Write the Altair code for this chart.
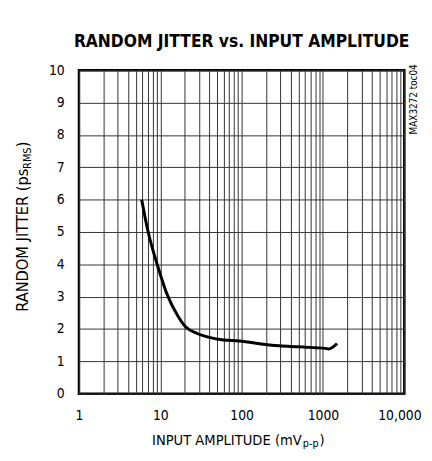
import altair as alt
import pandas as pd

# Curve (input amplitude mVp-p, random jitter psRMS)
amp = [5.9, 7.0, 9.3, 12.3, 16.3, 20.6, 28.5, 40, 60, 95, 150, 290, 500, 800, 1070, 1175, 1490]
jit = [6.0, 5.06, 3.94, 3.03, 2.42, 2.06, 1.86, 1.74, 1.66, 1.63, 1.56, 1.48, 1.45, 1.42, 1.40, 1.38, 1.55]

x_grid = [m * d for d in [1, 10, 100, 1000] for m in range(1, 10)] + [10000]
y_ticks = list(range(0, 11))
x_labels = {1: "1", 10: "10", 100: "100", 1000: "1000", 10000: "10,000"}

FONT = "DejaVu Sans Condensed, DejaVu Sans, sans-serif"

df = pd.DataFrame({"amp": amp, "jit": jit})

label_expr = " : ".join(
    [f"datum.value == {k} ? '{v}'" for k, v in x_labels.items()]
) + " : ''"

xscale = alt.Scale(type="log", domain=[1, 10000], nice=False)
yscale = alt.Scale(domain=[0, 10], nice=False)

line = alt.Chart(df).mark_line(color="black", strokeWidth=3, interpolate="monotone").encode(
    x=alt.X("amp:Q", scale=xscale,
            axis=alt.Axis(values=x_grid, labelExpr=label_expr, grid=True, gridColor="#333",
                          gridWidth=1, ticks=False, domain=False, labelFont=FONT,
                          labelFontSize=14, labelColor="black", labelPadding=15,
                          labelOffset={"condition": {"test": "datum.value == 10000", "value": -5},
                                       "value": 0},
                          title=None, labelFlush=False, labelOverlap=False)),
    y=alt.Y("jit:Q", scale=yscale,
            axis=alt.Axis(values=y_ticks, grid=True, gridColor="#333", gridWidth=1,
                          ticks=False, domain=False, labelFont=FONT, labelFontSize=14,
                          labelColor="black", labelPadding=15, title=None,
                          labelFlush=False, labelOverlap=False)),
)

def txt(text, x, y, size, angle=0, align="left", baseline="alphabetic"):
    return alt.Chart(pd.DataFrame({"t": [text]})).mark_text(
        font=FONT, fontSize=size, angle=angle, align=align, baseline=baseline, color="black"
    ).encode(text="t:N", x=alt.value(x), y=alt.value(y))

texts = [
    # x-axis title with subscript
    txt("INPUT AMPLITUDE (mV", 226, 380, 14.8, align="right"),
    txt("p-p", 227, 382, 11),
    txt(")", 244, 380, 14.8),
    # y-axis title with subscript
    txt("RANDOM JITTER (ps", -52, 245, 16.5, angle=270),
    txt("RMS", -49, 100, 11, angle=270),
    txt(")", -52, 78, 16.5, angle=270),
    # side note
    txt("MAX3272 toc04", 343, 65, 10, angle=270),
]

chart = alt.layer(line, *texts).properties(
    width=330,
    height=328,
    title=alt.TitleParams("RANDOM JITTER vs. INPUT AMPLITUDE", font=FONT, fontSize=17.5,
                          fontWeight="bold", color="black", anchor="middle", offset=13),
    autosize=alt.AutoSizeParams(type="none"),
    padding={"left": 72, "top": 60, "right": 20, "bottom": 57},
).configure_view(stroke="black", strokeWidth=2.5)

chart.save("out.html", embed_options={"renderer": "svg", "actions": False})
